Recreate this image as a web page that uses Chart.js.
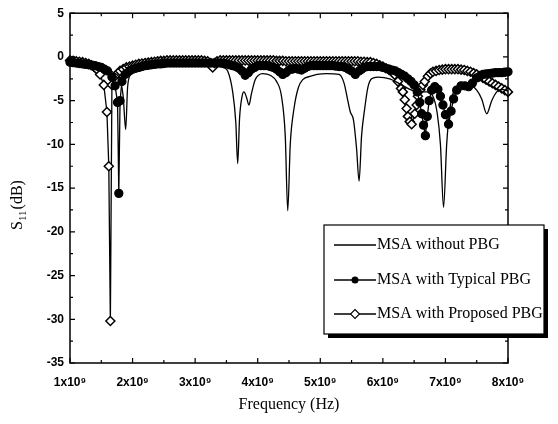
<!DOCTYPE html>
<html>
<head>
<meta charset="utf-8">
<script src="https://cdn.jsdelivr.net/npm/chart.js@4.4.1/dist/chart.umd.min.js"></script>
<style>
  body { margin: 0; background: #fff; }
  #wrap { width: 558px; height: 424px; }
</style>
</head>
<body>
<div id="wrap"><canvas id="s11Chart" width="558" height="424"></canvas></div>
<script>
// frequency in units of 10^9 Hz, S11 in dB
var noPbgFreq = [1.0, 1.2, 1.4, 1.55, 1.7, 1.8, 1.85, 1.89, 1.92, 1.97, 2.05, 2.2, 2.5, 3.0, 3.3, 3.45, 3.52, 3.6, 3.65, 3.68, 3.71, 3.75, 3.78, 3.82, 3.86, 3.9, 3.96, 4.08, 4.2, 4.3, 4.38, 4.44, 4.48, 4.52, 4.58, 4.65, 4.72, 4.85, 4.95, 5.1, 5.3, 5.38, 5.44, 5.48, 5.53, 5.58, 5.62, 5.66, 5.71, 5.76, 5.82, 5.92, 6.11, 6.25, 6.4, 6.55, 6.7, 6.8, 6.87, 6.92, 6.97, 7.02, 7.07, 7.12, 7.2, 7.3, 7.4, 7.5, 7.58, 7.66, 7.74, 7.82, 7.9, 8.0];
var noPbgS11 = [-0.3, -0.6, -1.0, -1.3, -1.8, -2.6, -4.5, -8.3, -3.5, -2.0, -1.5, -1.1, -0.8, -0.7, -0.8, -1.2, -1.6, -4.0, -7.5, -12.2, -7.0, -4.5, -4.0, -4.6, -5.5, -4.2, -2.6, -1.9, -2.1, -2.8, -4.5, -9.0, -17.6, -10.0, -5.9, -3.5, -2.6, -2.2, -2.0, -1.9, -2.0, -3.0, -5.0, -6.3, -7.2, -10.5, -14.2, -9.0, -5.9, -3.5, -2.5, -2.3, -2.5, -3.0, -3.6, -4.0, -4.0, -4.5, -6.5, -10.0, -17.2, -10.0, -6.0, -4.2, -3.3, -3.0, -3.2, -3.8, -4.8, -6.5, -5.0, -4.0, -3.7, -3.9];

var typicalFreq = [
	1.0, 1.05, 1.1, 1.15, 1.2, 1.25, 1.3, 1.35, 1.4, 1.45,
	1.5, 1.55, 1.6, 1.67, 1.72, 1.76, 1.78, 1.8, 1.83, 1.88,
	1.95, 2.0, 2.05, 2.1, 2.15, 2.2, 2.25, 2.3, 2.35, 2.4,
	2.45, 2.5, 2.55, 2.6, 2.65, 2.7, 2.75, 2.8, 2.85, 2.9,
	2.95, 3.0, 3.05, 3.1, 3.15, 3.2, 3.25, 3.3, 3.35, 3.4,
	3.45, 3.5, 3.55, 3.6, 3.65, 3.7, 3.75, 3.8, 3.85, 3.9,
	3.95, 4.0, 4.05, 4.1, 4.15, 4.2, 4.25, 4.3, 4.35, 4.4,
	4.45, 4.5, 4.55, 4.6, 4.65, 4.7, 4.75, 4.8, 4.85, 4.9,
	4.95, 5.0, 5.05, 5.1, 5.15, 5.2, 5.25, 5.3, 5.35, 5.4,
	5.45, 5.5, 5.56, 5.62, 5.66, 5.7, 5.75, 5.8, 5.85, 5.9,
	5.95, 6.0, 6.05, 6.1, 6.15, 6.2, 6.25, 6.3, 6.35, 6.4,
	6.45, 6.5, 6.55, 6.59, 6.62, 6.65, 6.68, 6.71, 6.74, 6.78,
	6.83, 6.88, 6.92, 6.96, 7.0, 7.05, 7.09, 7.13, 7.18, 7.25,
	7.31, 7.37, 7.43, 7.5, 7.55, 7.6, 7.65, 7.7, 7.75, 7.8,
	7.85, 7.9, 7.95, 8.0];
var typicalS11 = [
	-0.6, -0.65, -0.7, -0.75, -0.8, -0.85, -0.9, -0.95, -1.0, -1.1,
	-1.2, -1.4, -1.6, -2.3, -3.3, -5.2, -15.6, -5.0, -2.8, -2.0,
	-1.6, -1.4, -1.3, -1.2, -1.1, -1.0, -0.95, -0.9, -0.85, -0.8,
	-0.8, -0.75, -0.7, -0.7, -0.7, -0.7, -0.7, -0.7, -0.7, -0.7,
	-0.7, -0.7, -0.7, -0.7, -0.7, -0.7, -0.7, -0.7, -0.7, -0.7,
	-0.75, -0.8, -0.9, -1.0, -1.1, -1.3, -1.6, -2.1, -1.8, -1.4,
	-1.2, -1.0, -1.0, -1.0, -1.0, -1.1, -1.2, -1.4, -1.7, -2.0,
	-1.8, -1.5, -1.4, -1.3, -1.4, -1.5, -1.3, -1.1, -1.0, -1.0,
	-1.0, -1.0, -1.0, -1.0, -1.0, -1.0, -1.05, -1.1, -1.1, -1.2,
	-1.4, -1.6, -2.0, -1.6, -1.4, -1.2, -1.1, -1.1, -1.1, -1.1,
	-1.1, -1.2, -1.3, -1.4, -1.5, -1.6, -1.8, -2.0, -2.2, -2.5,
	-2.8, -3.2, -4.0, -5.2, -6.5, -7.8, -9.0, -6.8, -5.0, -3.8,
	-3.4, -3.7, -4.5, -5.5, -6.6, -7.7, -6.2, -4.8, -3.8, -3.3,
	-3.3, -3.4, -3.0, -2.4, -2.2, -2.0, -1.95, -1.9, -1.85, -1.8,
	-1.8, -1.8, -1.75, -1.7];

var proposedFreq = [
	1.0, 1.05, 1.1, 1.15, 1.2, 1.25, 1.3, 1.34, 1.38, 1.41,
	1.44, 1.48, 1.54, 1.59, 1.62, 1.645, 1.67, 1.72, 1.76, 1.8,
	1.85, 1.9, 1.95, 2.0, 2.05, 2.1, 2.15, 2.2, 2.25, 2.3,
	2.35, 2.4, 2.45, 2.5, 2.55, 2.6, 2.65, 2.7, 2.75, 2.8,
	2.85, 2.9, 2.95, 3.0, 3.05, 3.1, 3.15, 3.2, 3.25, 3.28,
	3.31, 3.35, 3.4, 3.45, 3.5, 3.55, 3.6, 3.65, 3.7, 3.75,
	3.8, 3.85, 3.9, 3.95, 4.0, 4.05, 4.1, 4.15, 4.2, 4.25,
	4.3, 4.35, 4.4, 4.45, 4.5, 4.55, 4.6, 4.65, 4.7, 4.75,
	4.8, 4.85, 4.9, 4.95, 5.0, 5.05, 5.1, 5.15, 5.2, 5.25,
	5.3, 5.35, 5.4, 5.45, 5.5, 5.55, 5.6, 5.65, 5.7, 5.75,
	5.8, 5.85, 5.9, 5.95, 6.0, 6.05, 6.1, 6.15, 6.19, 6.24,
	6.29, 6.32, 6.35, 6.38, 6.4, 6.43, 6.46, 6.51, 6.54, 6.56,
	6.6, 6.64, 6.67, 6.72, 6.76, 6.8, 6.85, 6.9, 6.95, 7.0,
	7.05, 7.1, 7.15, 7.2, 7.25, 7.3, 7.35, 7.4, 7.45, 7.5,
	7.55, 7.6, 7.65, 7.7, 7.75, 7.8, 7.85, 7.9, 7.95, 8.0];
var proposedS11 = [
	-0.4, -0.45, -0.5, -0.55, -0.6, -0.7, -0.8, -0.95, -1.1, -1.3,
	-1.5, -2.0, -3.2, -6.3, -12.5, -30.2, -3.2, -2.2, -1.9, -1.6,
	-1.4, -1.2, -1.1, -1.0, -0.9, -0.8, -0.75, -0.7, -0.65, -0.6,
	-0.55, -0.5, -0.45, -0.45, -0.4, -0.4, -0.4, -0.4, -0.4, -0.4,
	-0.4, -0.4, -0.4, -0.4, -0.4, -0.4, -0.45, -0.5, -0.7, -1.2,
	-0.7, -0.5, -0.4, -0.4, -0.4, -0.4, -0.4, -0.4, -0.4, -0.4,
	-0.4, -0.4, -0.4, -0.4, -0.4, -0.4, -0.4, -0.4, -0.4, -0.4,
	-0.45, -0.45, -0.45, -0.5, -0.5, -0.5, -0.5, -0.5, -0.5, -0.5,
	-0.5, -0.5, -0.5, -0.5, -0.5, -0.5, -0.5, -0.5, -0.5, -0.5,
	-0.5, -0.5, -0.5, -0.5, -0.5, -0.5, -0.5, -0.55, -0.55, -0.6,
	-0.6, -0.7, -0.8, -0.95, -1.1, -1.3, -1.5, -1.75, -2.05, -2.8,
	-3.6, -4.0, -4.9, -5.9, -6.8, -7.4, -7.7, -6.5, -5.5, -4.5,
	-3.75, -3.2, -2.8, -2.2, -1.9, -1.7, -1.6, -1.5, -1.45, -1.4,
	-1.4, -1.4, -1.4, -1.4, -1.45, -1.5, -1.6, -1.7, -1.85, -2.0,
	-2.2, -2.4, -2.6, -2.8, -3.0, -3.2, -3.4, -3.6, -3.8, -4.0];

var seriesNames = ["MSA without PBG", "MSA with Typical PBG", "MSA with Proposed PBG"];

function toPoints(xs, ys) {
	return xs.map(function (x, i) { return { x: x, y: ys[i] }; });
}

// frame with inward ticks, legend box and y title
var decorPlugin = {
	id: 'decor',
	afterDraw: function (chart) {
		var ctx = chart.ctx;
		var a = chart.chartArea;
		var xs = chart.scales.x, ys = chart.scales.y;
		ctx.save();
		ctx.strokeStyle = '#000';
		ctx.lineWidth = 1.5;
		ctx.strokeRect(a.left, a.top, a.right - a.left, a.bottom - a.top);
		ctx.lineWidth = 1.2;
		ctx.beginPath();
		for (var v = 1; v <= 8; v += 0.5) {
			var px = xs.getPixelForValue(v);
			var len = (v % 1 === 0) ? 5 : 3;
			ctx.moveTo(px, a.bottom); ctx.lineTo(px, a.bottom - len);
			ctx.moveTo(px, a.top); ctx.lineTo(px, a.top + len);
		}
		for (var w = -35; w <= 5; w += 2.5) {
			var py = ys.getPixelForValue(w);
			var l2 = (w % 5 === 0) ? 5 : 3;
			ctx.moveTo(a.left, py); ctx.lineTo(a.left + l2, py);
			ctx.moveTo(a.right, py); ctx.lineTo(a.right - l2, py);
		}
		ctx.stroke();

		// y axis title S11 (dB)
		ctx.save();
		ctx.translate(18, 205);
		ctx.rotate(-Math.PI / 2);
		ctx.fillStyle = '#000';
		ctx.textBaseline = 'middle';
		ctx.textAlign = 'left';
		var big = '16px "Liberation Serif", serif', small = '11px "Liberation Serif", serif';
		ctx.font = big; var wS = ctx.measureText('S').width; var wD = ctx.measureText('(dB)').width;
		ctx.font = small; var w11 = ctx.measureText('11').width;
		var x0 = -(wS + w11 + 1 + wD) / 2;
		ctx.font = big; ctx.fillText('S', x0, 0);
		ctx.font = small; ctx.fillText('11', x0 + wS, 5);
		ctx.font = big; ctx.fillText('(dB)', x0 + wS + w11 + 1, 0);
		ctx.restore();

		// legend box with drop shadow
		var bx = 324, by = 225, bw = 220, bh = 109;
		ctx.fillStyle = '#000';
		ctx.fillRect(bx + 4, by + 4, bw, bh);
		ctx.fillStyle = '#fff';
		ctx.fillRect(bx, by, bw, bh);
		ctx.lineWidth = 1.2;
		ctx.strokeRect(bx, by, bw, bh);
		var rows = [245, 280, 314];
		ctx.font = '16px "Liberation Serif", serif';
		ctx.textBaseline = 'middle';
		for (var i = 0; i < 3; i++) {
			var ry = rows[i];
			ctx.strokeStyle = '#000';
			ctx.lineWidth = 1.3;
			ctx.beginPath(); ctx.moveTo(334, ry); ctx.lineTo(376, ry); ctx.stroke();
			if (i === 1) {
				ctx.fillStyle = '#000';
				ctx.beginPath(); ctx.arc(355, ry, 3.5, 0, Math.PI * 2); ctx.fill();
			} else if (i === 2) {
				ctx.fillStyle = '#fff';
				ctx.beginPath();
				ctx.moveTo(355, ry - 4.5); ctx.lineTo(359.5, ry); ctx.lineTo(355, ry + 4.5); ctx.lineTo(350.5, ry); ctx.closePath();
				ctx.fill(); ctx.lineWidth = 1.1; ctx.stroke();
			}
			ctx.fillStyle = '#000';
			ctx.fillText(seriesNames[i], 377, ry);
		}
		ctx.restore();
	}
};

var ctx = document.getElementById("s11Chart").getContext('2d');

var s11Chart = new Chart(ctx, {
	type: 'line',
	data: {
		datasets: [
			{
				label: seriesNames[0],
				data: toPoints(noPbgFreq, noPbgS11),
				borderColor: '#000',
				borderWidth: 1.3,
				pointRadius: 0,
				cubicInterpolationMode: 'monotone',
				clip: false
			},
			{
				label: seriesNames[1],
				data: toPoints(typicalFreq, typicalS11),
				borderColor: '#000',
				backgroundColor: '#000',
				borderWidth: 1.3,
				pointStyle: 'circle',
				pointRadius: 4,
				pointBackgroundColor: '#000',
				pointBorderColor: '#000',
				clip: false
			},
			{
				label: seriesNames[2],
				data: toPoints(proposedFreq, proposedS11),
				borderColor: '#000',
				borderWidth: 1.3,
				pointStyle: 'rectRot',
				pointRadius: 4.5,
				pointBorderWidth: 1.5,
				pointBackgroundColor: '#fff',
				pointBorderColor: '#000',
				clip: false
			}
		]
	},
	options: {
		responsive: false,
		animation: false,
		layout: { padding: { left: 0, right: 50, top: 11, bottom: 0 } },
		plugins: {
			legend: { display: false },
			tooltip: { enabled: false }
		},
		scales: {
			x: {
				type: 'linear',
				min: 1,
				max: 8,
				grid: { display: false, drawTicks: false },
				border: { display: false },
				ticks: {
					stepSize: 1,
					padding: 12,
					color: '#000',
					font: { family: '"Liberation Sans", Arial, sans-serif', size: 12, weight: 'bold' },
					callback: function (v) { return v + 'x10\u2079'; }
				},
				title: {
					display: true,
					text: 'Frequency (Hz)',
					color: '#000',
					font: { family: '"Liberation Serif", serif', size: 16 },
					padding: { top: 0, bottom: 10 }
				},
				afterFit: function (s) { s.height = 61; }
			},
			y: {
				type: 'linear',
				min: -35,
				max: 5,
				grid: { display: false, drawTicks: false },
				border: { display: false },
				ticks: {
					stepSize: 5,
					padding: 6,
					color: '#000',
					font: { family: '"Liberation Sans", Arial, sans-serif', size: 12, weight: 'bold' }
				},
				afterFit: function (s) { s.width = 70; }
			}
		}
	},
	plugins: [decorPlugin]
});
</script>
</body>
</html>
